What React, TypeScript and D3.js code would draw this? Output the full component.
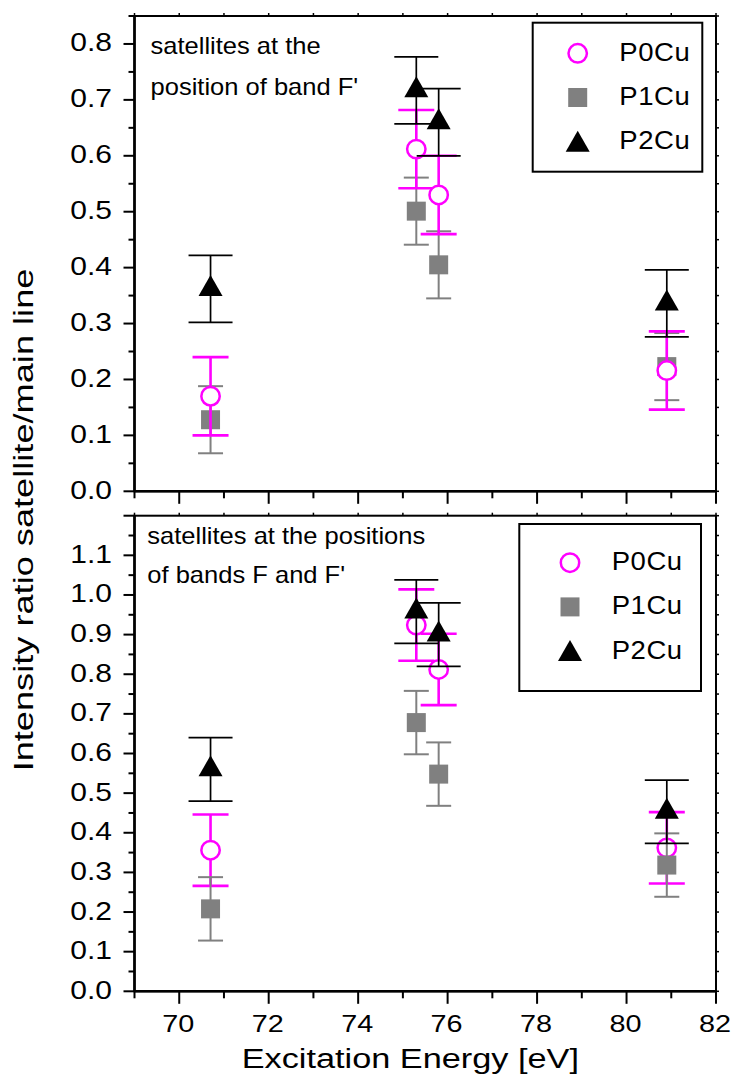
import React from "react";
import * as d3 from "d3";

// ---------- data ----------
const energies = [70.7, 75.3, 75.8, 80.9];

const topP0 = [0.17, 0.612, 0.53, 0.216];
const topP0Err = [0.07, 0.07, 0.07, 0.07];
const topP1 = [0.128, 0.501, 0.405, 0.223];
const topP1Err = [0.06, 0.06, 0.06, 0.06];
const topP2 = [0.362, 0.717, 0.66, 0.336];
const topP2Err = [0.06, 0.06, 0.06, 0.06];

const botP0 = [0.356, 0.924, 0.812, 0.362];
const botP0Err = [0.09, 0.09, 0.09, 0.09];
const botP1 = [0.208, 0.678, 0.548, 0.3185];
const botP1Err = [0.08, 0.08, 0.08, 0.08];
const botP2 = [0.56, 0.958, 0.9, 0.453];
const botP2Err = [0.08, 0.08, 0.08, 0.08];

const xTickLabels = [70, 72, 74, 76, 78, 80, 82];
const topYTicks = [0, 0.1, 0.2, 0.3, 0.4, 0.5, 0.6, 0.7, 0.8];
const botYTicks = [0, 0.1, 0.2, 0.3, 0.4, 0.5, 0.6, 0.7, 0.8, 0.9, 1.0, 1.1];
const seriesNames = ["P0Cu", "P1Cu", "P2Cu"];

const FONT = "'Liberation Sans', Arial, sans-serif";
const MAGENTA = "#ff00ff";
const GREY = "#808080";

const X0 = 134.5;
const X1 = 716;
const x = d3.scaleLinear().domain([69, 82]).range([X0, X1]);

type Panel = {
  top: number;
  bottom: number;
  max: number;
  yTicks: number[];
  p0: number[]; p0e: number[];
  p1: number[]; p1e: number[];
  p2: number[]; p2e: number[];
  order: number[];
  notes: string[];
  noteX: number;
  noteY: number;
  noteDy: number;
  legend: { x0: number; y0: number; x1: number; y1: number; mx: number; my: number; tx: number };
};

const panels: Panel[] = [
  {
    top: 16, bottom: 491.3, max: 0.85, yTicks: topYTicks,
    p0: topP0, p0e: topP0Err, p1: topP1, p1e: topP1Err, p2: topP2, p2e: topP2Err,
    order: [1, 0, 2],
    notes: ["satellites at the", "position of band F'"],
    noteX: 150.5, noteY: 54, noteDy: 41,
    legend: { x0: 532.7, y0: 22.7, x1: 702.3, y1: 171.7, mx: 577.7, my: 53.3, tx: 619.3 },
  },
  {
    top: 515.7, bottom: 991.3, max: 1.2, yTicks: botYTicks,
    p0: botP0, p0e: botP0Err, p1: botP1, p1e: botP1Err, p2: botP2, p2e: botP2Err,
    order: [0, 1, 2],
    notes: ["satellites at the positions", "of bands F and F'"],
    noteX: 147.3, noteY: 544.3, noteDy: 39,
    legend: { x0: 519.3, y0: 524, x1: 701, y1: 691, mx: 570, my: 562.7, tx: 611.7 },
  },
];

function Marker({ kind, cx, cy }: { kind: number; cx: number; cy: number }) {
  if (kind === 0) {
    return <circle cx={cx} cy={cy} r={9.2} fill="#fff" stroke={MAGENTA} strokeWidth={2.5} />;
  }
  if (kind === 1) {
    return <rect x={cx - 9.5} y={cy - 9.5} width={19} height={19} fill={GREY} />;
  }
  const p = d3.path();
  p.moveTo(cx, cy - 14);
  p.lineTo(cx + 12, cy + 7);
  p.lineTo(cx - 12, cy + 7);
  p.closePath();
  return <path d={p.toString()} fill="#000" />;
}

const seriesStyle = [
  { color: MAGENTA, cap: 18, w: 2.6 },
  { color: GREY, cap: 12.5, w: 2 },
  { color: "#000", cap: 22, w: 1.7 },
];

function PanelView({ pn, showXLabels }: { pn: Panel; showXLabels: boolean }) {
  const y = d3.scaleLinear().domain([0, pn.max]).range([pn.bottom, pn.top]);
  const vals = [pn.p0, pn.p1, pn.p2];
  const errs = [pn.p0e, pn.p1e, pn.p2e];
  const minorY = d3.range(0, pn.max + 1e-9, 0.05);
  const xMinor = d3.range(69, 82.001, 1);
  const L = pn.legend;
  return (
    <g>
      {minorY.map((v, i) => {
        const major = Math.abs(v * 10 - Math.round(v * 10)) < 1e-6;
        return (
          <line key={"ly" + i} x1={X0 - (major ? 11 : 6)} x2={X0} y1={y(v)} y2={y(v)} stroke="#000" strokeWidth={2} />
        );
      })}
      {minorY.map((v, i) => (
        <line key={"ry" + i} x1={X1} x2={X1 + 3} y1={y(v)} y2={y(v)} stroke="#000" strokeWidth={1.5} />
      ))}
      {xMinor.map((v, i) => {
        const major = v % 2 === 0;
        return (
          <line key={"bx" + i} x1={x(v)} x2={x(v)} y1={pn.bottom} y2={pn.bottom + (major ? 12.5 : 7)} stroke="#000" strokeWidth={2} />
        );
      })}
      {xMinor.map((v, i) => (
        <line key={"tx" + i} x1={x(v)} x2={x(v)} y1={pn.top} y2={pn.top - 3} stroke="#000" strokeWidth={1.5} />
      ))}
      <rect x={X0} y={pn.top} width={X1 - X0} height={pn.bottom - pn.top} fill="none" stroke="#000" strokeWidth={2} />
      <line x1={X0} x2={X0} y1={pn.top} y2={pn.bottom} stroke="#000" strokeWidth={2.6} />
      <line x1={X0} x2={X1} y1={pn.bottom} y2={pn.bottom} stroke="#000" strokeWidth={2.6} />
      {pn.yTicks.map((v, i) => (
        <text key={"yl" + i} transform={`translate(112,${y(v) + 7.5}) scale(1.2,1)`} textAnchor="end" fontFamily={FONT} fontSize={25} fill="#000">
          {v.toFixed(1)}
        </text>
      ))}
      {showXLabels &&
        xTickLabels.map((v, i) => (
          <text key={"xl" + i} transform={`translate(${x(v) - 1},1032.3) scale(1.2,1)`} textAnchor="middle" fontFamily={FONT} fontSize={24} fill="#000">
            {v}
          </text>
        ))}
      {pn.notes.map((t, i) => (
        <text key={"n" + i} transform={`translate(${pn.noteX},${pn.noteY + i * pn.noteDy}) scale(1.11,1)`} fontFamily={FONT} fontSize={23} fill="#000">
          {t}
        </text>
      ))}
      {pn.order.map((s) => {
        const st = seriesStyle[s];
        return (
          <g key={"s" + s}>
            {energies.map((e, i) => {
              const cx = x(e);
              const v = vals[s][i];
              const er = errs[s][i];
              const yt = y(v + er);
              const yb = y(v - er);
              return (
                <g key={i}>
                  <line x1={cx} x2={cx} y1={yt} y2={yb} stroke={st.color} strokeWidth={st.w} />
                  <line x1={cx - st.cap} x2={cx + st.cap} y1={yt} y2={yt} stroke={st.color} strokeWidth={st.w} />
                  <line x1={cx - st.cap} x2={cx + st.cap} y1={yb} y2={yb} stroke={st.color} strokeWidth={st.w} />
                  <Marker kind={s} cx={cx} cy={y(v)} />
                </g>
              );
            })}
          </g>
        );
      })}
      <rect x={L.x0} y={L.y0} width={L.x1 - L.x0} height={L.y1 - L.y0} fill="#fff" stroke="#000" strokeWidth={2} />
      {seriesNames.map((nm, i) => (
        <g key={"lg" + i}>
          <Marker kind={i} cx={L.mx} cy={L.my + i * 44.2 + (i === 2 ? 3 : 0)} />
          <text transform={`translate(${L.tx},${L.my + i * 44.2 + 7.4}) scale(1.1,1)`} fontFamily={FONT} fontSize={25} fill="#000" letterSpacing={0.5}>
            {nm}
          </text>
        </g>
      ))}
    </g>
  );
}

export default function App() {
  return (
    <svg width={734} height={1075} style={{ position: "absolute", left: 0, top: 0, background: "#fff" }}>
      <rect x={0} y={0} width={734} height={1075} fill="#fff" />
      <PanelView pn={panels[0]} showXLabels={false} />
      <PanelView pn={panels[1]} showXLabels={true} />
      <text transform="translate(33.3,520) scale(1,1.27) rotate(-90)" textAnchor="middle" fontFamily={FONT} fontSize={28.5} fill="#000">
        Intensity ratio satellite/main line
      </text>
      <text transform="translate(410.3,1067.5) scale(1.27,1)" textAnchor="middle" fontFamily={FONT} fontSize={27} fill="#000">
        Excitation Energy [eV]
      </text>
    </svg>
  );
}
